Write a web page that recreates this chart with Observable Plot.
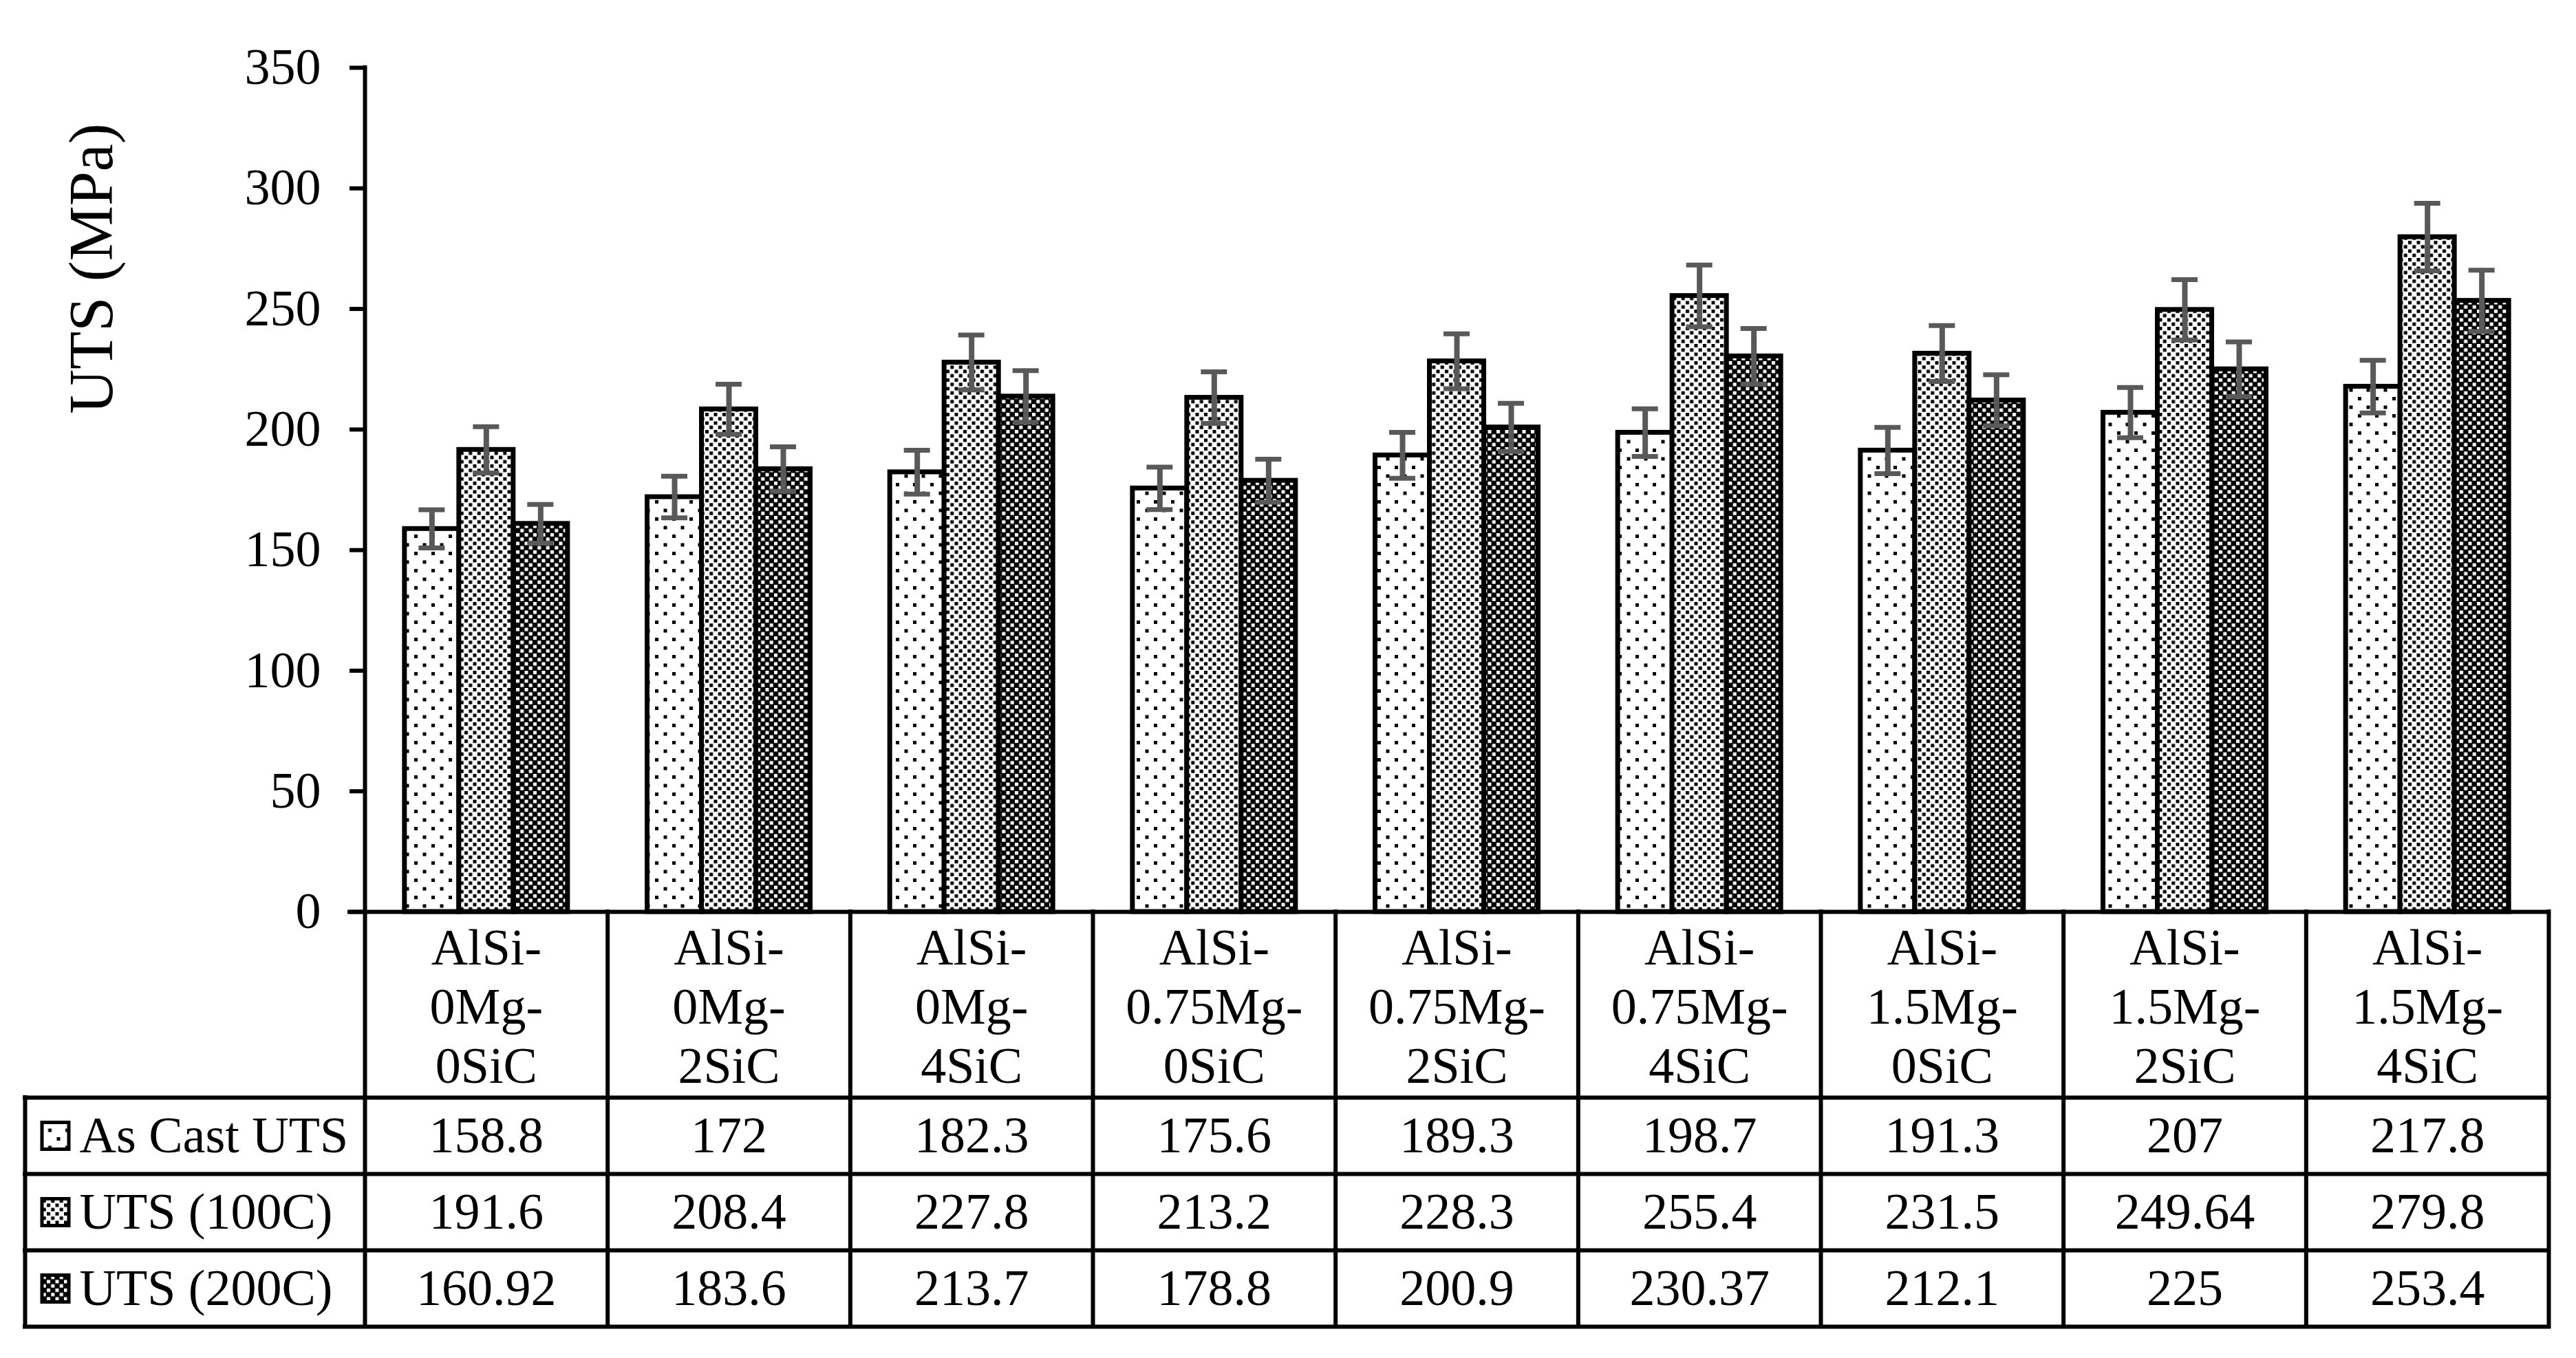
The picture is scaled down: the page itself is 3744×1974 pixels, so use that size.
<!DOCTYPE html>
<html>
<head>
<meta charset="utf-8">
<script src="https://cdn.jsdelivr.net/npm/d3@7"></script>
<script src="https://cdn.jsdelivr.net/npm/@observablehq/plot@0.6"></script>
<style>
  html, body { margin: 0; padding: 0; background: #ffffff; }
  svg { display: block; }
</style>
</head>
<body>
<div id="chart"></div>
<script>
// ---------------- data ----------------
const categories = [
  "AlSi-0Mg-0SiC", "AlSi-0Mg-2SiC", "AlSi-0Mg-4SiC",
  "AlSi-0.75Mg-0SiC", "AlSi-0.75Mg-2SiC", "AlSi-0.75Mg-4SiC",
  "AlSi-1.5Mg-0SiC", "AlSi-1.5Mg-2SiC", "AlSi-1.5Mg-4SiC"
];
const seriesNames = ["As Cast UTS", "UTS (100C)", "UTS (200C)"];
const asCastUTS = [158.8, 172, 182.3, 175.6, 189.3, 198.7, 191.3, 207, 217.8];
const uts100C   = [191.6, 208.4, 227.8, 213.2, 228.3, 255.4, 231.5, 249.64, 279.8];
const uts200C   = [160.92, 183.6, 213.7, 178.8, 200.9, 230.37, 212.1, 225, 253.4];
// error-bar half lengths
const asCastErr = [7.9, 8.6, 9.1, 8.8, 9.5, 9.9, 9.6, 10.4, 10.9];
const uts100Err = [9.6, 10.4, 11.4, 10.7, 11.4, 12.8, 11.6, 12.5, 14.0];
const uts200Err = [8.0, 9.2, 10.7, 8.9, 10.0, 11.5, 10.6, 11.3, 12.7];
const yTicks = [0, 50, 100, 150, 200, 250, 300, 350];
const yLabel = "UTS (MPa)";

// ---------------- layout (styles) ----------------
const W = 3744, H = 1974;
const mL = 530, mR = 40, mT = 98, mB = 649;
const frameH = H - mT - mB;
const bw = (W - mL - mR) / categories.length;   // category band width
const barW = 79;                                  // single bar width
const side = (bw - 3 * barW) / 2;
const capW = 38;
const labelRowH = 270, rowH = 111;
const tableBottom = labelRowH + 3 * rowH;         // below baseline
const tableLeft = 36;
const fontFamily = "'Liberation Serif', 'Times New Roman', serif";
const lineW = 6;

const valuesBySeries = [asCastUTS, uts100C, uts200C];
const errBySeries = [asCastErr, uts100Err, uts200Err];
const rows = categories.flatMap((c, i) => seriesNames.map((s, si) => ({
  category: c, series: s, si, value: valuesBySeries[si][i], err: errBySeries[si][i]
})));
const bySeries = si => rows.filter(d => d.si === si);
const patternIds = ["pat-ascast", "pat-100c", "pat-200c"];

const marks = [];

// bars
seriesNames.forEach((s, si) => {
  marks.push(Plot.barY(bySeries(si), {
    x: "category", y: "value",
    fill: `url(#${patternIds[si]})`,
    stroke: "black", strokeWidth: 7,
    insetLeft: side + si * barW,
    insetRight: bw - side - (si + 1) * barW
  }));
});

// error bars
seriesNames.forEach((s, si) => {
  const center = side + (si + 0.5) * barW;
  marks.push(Plot.ruleX(bySeries(si), {
    x: "category", y1: d => d.value - d.err, y2: d => d.value + d.err,
    dx: center - bw / 2, stroke: "#595959", strokeWidth: 8
  }));
  for (const sign of [-1, 1]) {
    marks.push(Plot.tickY(bySeries(si), {
      x: "category", y: d => d.value + sign * d.err,
      insetLeft: center - capW / 2, insetRight: bw - center - capW / 2,
      stroke: "#595959", strokeWidth: 7
    }));
  }
});

// y axis
marks.push(Plot.axisY(yTicks, {
  tickSize: 22, tickPadding: 42, fontSize: 74, strokeWidth: lineW, label: null
}));
// y axis line (continues as table divider)
marks.push(Plot.ruleX([categories[0]], {
  x: d => d, dx: -bw / 2, insetBottom: -tableBottom, stroke: "black", strokeWidth: lineW,
  strokeLinecap: "square"
}));
// category column dividers
marks.push(Plot.ruleX(categories, {
  x: d => d, dx: bw / 2, insetTop: frameH, insetBottom: -tableBottom,
  stroke: "black", strokeWidth: lineW, strokeLinecap: "square"
}));
// baseline
marks.push(Plot.ruleY([0], {y: d => d, insetLeft: -22, stroke: "black", strokeWidth: lineW, strokeLinecap: "square"}));
// table horizontal lines
[labelRowH, labelRowH + rowH, labelRowH + 2 * rowH, labelRowH + 3 * rowH].forEach(off => {
  marks.push(Plot.ruleY([0], {y: d => d, dy: off, insetLeft: -(mL - tableLeft),
    stroke: "black", strokeWidth: lineW, strokeLinecap: "square"}));
});
// table left border
marks.push(Plot.ruleX([categories[0]], {
  x: d => d, dx: -bw / 2 - (mL - tableLeft), insetTop: frameH + labelRowH, insetBottom: -tableBottom,
  stroke: "black", strokeWidth: lineW, strokeLinecap: "square"
}));

// category labels
marks.push(Plot.text(categories, {
  x: d => d, text: d => d.replace(/-/g, "-\n"), frameAnchor: "bottom",
  dy: labelRowH / 2, lineAnchor: "middle", lineHeight: 1.16, fontSize: 74, fill: "black"
}));

// value rows + legend
seriesNames.forEach((s, si) => {
  const dy = labelRowH + (si + 0.5) * rowH;
  marks.push(Plot.text(bySeries(si), {
    x: "category", text: d => String(d.value), frameAnchor: "bottom",
    dy, lineAnchor: "middle", fontSize: 74, fill: "black"
  }));
  marks.push(Plot.text([s], {
    text: d => d, frameAnchor: "bottom-left", dx: 115 - mL, dy,
    textAnchor: "start", lineAnchor: "middle", fontSize: 74, fill: "black"
  }));
  marks.push(Plot.dot([s], {
    frameAnchor: "bottom-left", dx: 80 - mL, dy, symbol: "square", r: 22,
    fill: `url(#${patternIds[si]})`, stroke: "black", strokeWidth: 5
  }));
});

// y axis title
marks.push(Plot.text([yLabel], {
  text: d => d, frameAnchor: "left", rotate: -90, dx: 134 - mL, dy: 390 - (mT + frameH / 2),
  textAnchor: "middle", lineAnchor: "middle", fontSize: 90, fill: "black"
}));

const plot = Plot.plot({
  width: W, height: H,
  marginLeft: mL, marginRight: mR, marginTop: mT, marginBottom: mB,
  style: {fontFamily, fontSize: "74px", background: "white", color: "black", overflow: "visible"},
  x: {domain: categories, padding: 0, round: false, axis: null},
  y: {domain: [0, 350]},
  marks
});

// patterns
const defs = d3.select(plot).insert("defs", ":first-child");
function pattern(id, size, bg, fg, squares) {
  const p = defs.append("pattern").attr("id", id).attr("patternUnits", "userSpaceOnUse")
    .attr("width", size).attr("height", size);
  p.append("rect").attr("width", size).attr("height", size).attr("fill", bg);
  squares.forEach(([x, y, s]) => p.append("rect").attr("x", x).attr("y", y).attr("width", s).attr("height", s).attr("fill", fg));
}
pattern("pat-ascast", 25, "white", "black", [[2, 2, 5], [14.5, 14.5, 5]]);
pattern("pat-100c", 12.5, "white", "black", [[0, 0, 5], [6.25, 6.25, 5]]);
pattern("pat-200c", 12.5, "black", "white", [[0, 0, 5], [6.25, 6.25, 5]]);

document.getElementById("chart").appendChild(plot);
</script>
</body>
</html>
